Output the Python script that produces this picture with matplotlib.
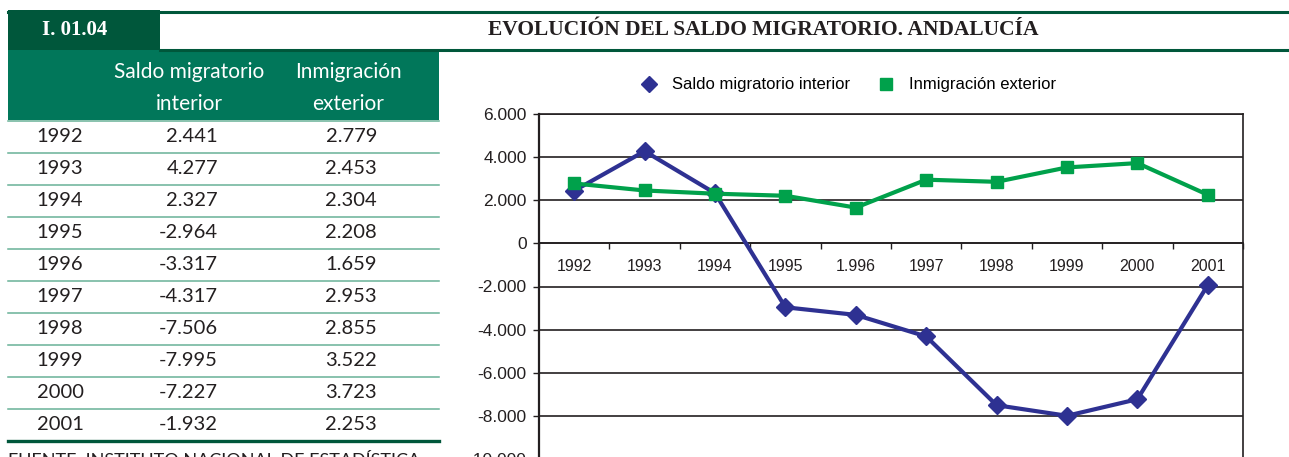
import matplotlib
matplotlib.use("Agg")
import matplotlib.pyplot as plt
from matplotlib.lines import Line2D
from matplotlib.patches import Rectangle
import numpy as np

W, H = 1289, 457

# data
years = ["1992", "1993", "1994", "1995", "1996", "1997", "1998", "1999", "2000", "2001"]
axis_labels = ["1992", "1993", "1994", "1995", "1.996", "1997", "1998", "1999", "2000", "2001"]
saldo_interior = [2441, 4277, 2327, -2964, -3317, -4317, -7506, -7995, -7227, -1932]
inmigracion_exterior = [2779, 2453, 2304, 2208, 1659, 2953, 2855, 3522, 3723, 2253]
series_names = ["Saldo migratorio interior", "Inmigración exterior"]
col_headers = [("Saldo migratorio", "interior"), ("Inmigración", "exterior")]
y_ticks = [6000, 4000, 2000, 0, -2000, -4000, -6000, -8000, -10000]

title = "EVOLUCIÓN DEL SALDO MIGRATORIO. ANDALUCÍA"
code = "I. 01.04"
source = "FUENTE: INSTITUTO NACIONAL DE ESTADÍSTICA"

DARK = "#00573b"
HEAD = "#01775a"
ROWLINE = "#68b197"
TXT = "#231f20"
BLUE = "#2e3192"
GREEN = "#00a14b"


def fmt(v):
    return f"{v:,}".replace(",", ".")


def fx(x):
    return x / W


def fy(y):
    return 1 - y / H


fig = plt.figure(figsize=(W / 100, H / 100), dpi=100)

# title band
fig.add_artist(Rectangle((fx(8), fy(50)), fx(160) - fx(8), fy(10) - fy(50),
                         transform=fig.transFigure, color=DARK, lw=0))
fig.add_artist(Line2D([fx(8), 1], [fy(12), fy(12)], transform=fig.transFigure, color=DARK, lw=2.2))
fig.add_artist(Line2D([fx(160), 1], [fy(49.5), fy(49.5)], transform=fig.transFigure, color=DARK, lw=2.2))
fig.text(fx(75), fy(30), code, color="white", fontsize=15, fontweight="bold",
         family="Liberation Serif", ha="center", va="center")
fig.text(fx(763), fy(30), title, color=TXT, fontsize=15.5, fontweight="bold",
         family="Liberation Serif", ha="center", va="center")

# table header
fig.add_artist(Rectangle((fx(8), fy(120)), fx(439) - fx(8), fy(50) - fy(120),
                         transform=fig.transFigure, color=HEAD, lw=0))
for cx, (l1, l2) in zip([189, 348], col_headers):
    fig.text(fx(cx), fy(72), l1, color="white", fontsize=15, family="Lato", ha="center", va="center")
    fig.text(fx(cx), fy(104), l2, color="white", fontsize=15, family="Lato", ha="center", va="center")

# table rows
row_h = (441 - 120) / len(years)
for i, (yr, a, b) in enumerate(zip(years, saldo_interior, inmigracion_exterior)):
    yc = 120 + row_h * (i + 0.5)
    fig.text(fx(60), fy(yc), yr, color=TXT, fontsize=14.5, family="Lato", ha="center", va="center")
    fig.text(fx(218), fy(yc), fmt(a), color=TXT, fontsize=14.5, family="Lato", ha="right", va="center")
    fig.text(fx(377), fy(yc), fmt(b), color=TXT, fontsize=14.5, family="Lato", ha="right", va="center")
for k in range(len(years)):
    yl = 120.5 + row_h * k
    fig.add_artist(Line2D([fx(8), fx(439)], [fy(yl), fy(yl)], transform=fig.transFigure,
                          color=ROWLINE, lw=1.1))
fig.add_artist(Line2D([fx(8), fx(439)], [fy(440.5), fy(440.5)], transform=fig.transFigure,
                      color=DARK, lw=2.4))
fig.text(fx(8), fy(453), source, color=TXT, fontsize=13, family="Lato", ha="left", va="top")

# chart
ax = fig.add_axes([fx(539), fy(459), fx(1243) - fx(539), fy(114) - fy(459)])
x = np.arange(len(years))
ax.plot(x, saldo_interior, color=BLUE, lw=3, marker="D", ms=9, zorder=3)
ax.plot(x, inmigracion_exterior, color=GREEN, lw=3, marker="s", ms=8.5, zorder=4)
ax.set_xlim(-0.5, len(years) - 0.5)
ax.set_ylim(-10000, 6000)
ax.set_yticks(y_ticks)
ax.set_yticklabels([fmt(v) for v in y_ticks], family="Liberation Sans", fontsize=12.5, color=TXT)
ax.yaxis.grid(True, color=TXT, lw=1.2)
ax.set_axisbelow(True)

ax.spines["bottom"].set_position(("data", 0))
for s in ax.spines.values():
    s.set_color(TXT)
    s.set_linewidth(1.2)
ax.spines["left"].set_linewidth(1.6)

ax.set_xticks(np.arange(len(years) + 1) - 0.5)
ax.set_xticklabels([])
ax.set_xticks(x, minor=True)
ax.set_xticklabels(axis_labels, minor=True, family="Liberation Sans", fontsize=11.5, color=TXT)
ax.tick_params(axis="x", which="major", direction="out", length=4, width=1, color=TXT)
ax.tick_params(axis="x", which="minor", length=0, pad=11)
ax.tick_params(axis="y", direction="out", length=4, width=1, color=TXT, pad=5)

handles = [Line2D([], [], color=BLUE, marker="D", ms=8, ls="None"),
           Line2D([], [], color=GREEN, marker="s", ms=8, ls="None")]
fig.legend(handles, series_names, loc="center", bbox_to_anchor=(fx(848), fy(85)),
           ncol=2, frameon=False, prop={"family": "Liberation Sans", "size": 12},
           handlelength=1.0, handletextpad=0.88, columnspacing=1.66,
           borderpad=0, borderaxespad=0)

fig.savefig("out.png", dpi=100)
